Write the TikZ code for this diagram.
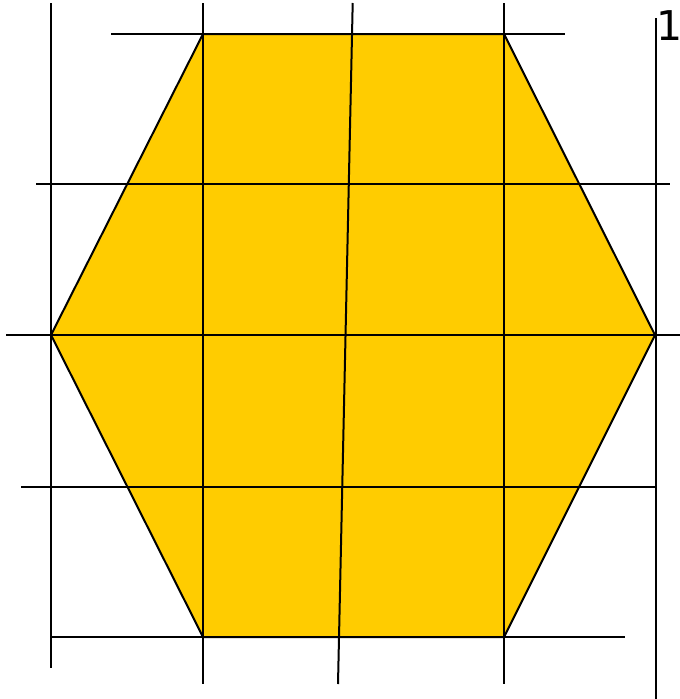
\documentclass[tikz,border=0pt]{standalone}
\usepackage{fontspec}
\newfontfamily\labelfont{DejaVu Sans}
\definecolor{hexfill}{HTML}{FFCC00}
\begin{document}
\begin{tikzpicture}[x=1pt,y=-1pt,
  gridline/.style={draw=black,line width=2pt},
  hexshape/.style={fill=hexfill,draw=black,line width=2pt,line join=miter}]
\useasboundingbox (0,0) rectangle (680,699);
\coordinate (h1) at (203,34);
\coordinate (h2) at (504,34);
\coordinate (h3) at (655,335);
\coordinate (h4) at (504,637);
\coordinate (h5) at (203,637);
\coordinate (h6) at (51,335);
\path[hexshape] (h1) -- (h2) -- (h3) -- (h4) -- (h5) -- (h6) -- cycle;
% vertical lines
\coordinate (v1a) at (51,3);   \coordinate (v1b) at (51,668);
\coordinate (v2a) at (203,3);  \coordinate (v2b) at (203,684);
\coordinate (v3a) at (352.7,3);\coordinate (v3b) at (338,684);
\coordinate (v4a) at (504,3);  \coordinate (v4b) at (504,684);
\coordinate (v5a) at (655.5,18); \coordinate (v5b) at (655.5,699);
\draw[gridline] (v1a) -- (v1b);
\draw[gridline] (v2a) -- (v2b);
\draw[gridline] (v3a) -- (v3b);
\draw[gridline] (v4a) -- (v4b);
\draw[gridline] (v5a) -- (v5b);
% horizontal lines
\coordinate (g1a) at (111,34);  \coordinate (g1b) at (565,34);
\coordinate (g2a) at (36,184);  \coordinate (g2b) at (670,184);
\coordinate (g3a) at (6,335);   \coordinate (g3b) at (680,335);
\coordinate (g4a) at (21,487);  \coordinate (g4b) at (655,487);
\coordinate (g5a) at (51,637);  \coordinate (g5b) at (625,637);
\draw[gridline] (g1a) -- (g1b);
\draw[gridline] (g2a) -- (g2b);
\draw[gridline] (g3a) -- (g3b);
\draw[gridline] (g4a) -- (g4b);
\draw[gridline] (g5a) -- (g5b);
\node[inner sep=0pt,anchor=south west,font=\labelfont\fontsize{41}{41}\selectfont] (one) at (656,40.5) {1};
\end{tikzpicture}
\end{document}
